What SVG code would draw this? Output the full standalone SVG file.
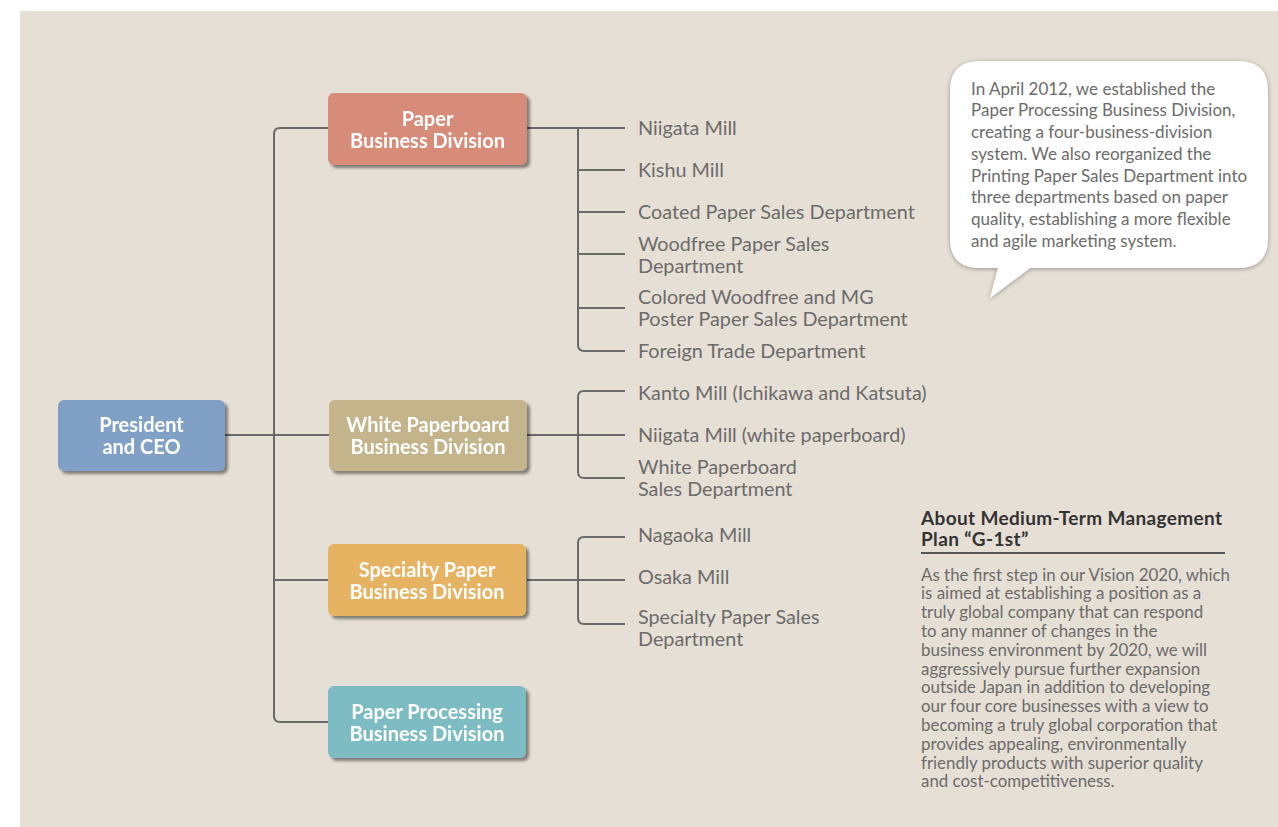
<svg xmlns="http://www.w3.org/2000/svg" width="1278" height="827" viewBox="0 0 1278 827">
<defs>
<filter id="sh" x="-10%" y="-10%" width="125%" height="130%">
<feGaussianBlur in="SourceAlpha" stdDeviation="1.5"/>
<feOffset dx="3" dy="3" result="b"/>
<feComponentTransfer><feFuncA type="linear" slope="0.45"/></feComponentTransfer>
<feMerge><feMergeNode/><feMergeNode in="SourceGraphic"/></feMerge>
</filter>
<filter id="bsh" x="-10%" y="-10%" width="120%" height="130%">
<feGaussianBlur in="SourceAlpha" stdDeviation="2.5"/>
<feOffset dx="0" dy="1"/>
<feComponentTransfer><feFuncA type="linear" slope="0.35"/></feComponentTransfer>
<feMerge><feMergeNode/><feMergeNode in="SourceGraphic"/></feMerge>
</filter>
</defs>
<style>
.box{filter:url(#sh)}
.bt{font-family:Lato,"Open Sans",sans-serif;font-weight:700;font-size:20px;fill:#ffffff;text-anchor:middle}
.lb{font-family:Lato,"Open Sans",sans-serif;font-size:19.8px;fill:#6b6b6b}
.ln{fill:none;stroke:#6a6a6a;stroke-width:2}
.cb{font-family:Lato,"Open Sans",sans-serif;font-size:17px;fill:#6b6b6b}
.hd{font-family:Lato,"Open Sans",sans-serif;font-weight:700;font-size:19px;letter-spacing:0.35px;fill:#333333}
.bd{font-family:Lato,"Open Sans",sans-serif;font-size:16.9px;fill:#6b6b6b}
</style>
<rect x="20" y="11" width="1258" height="816" fill="#e6dfd5"/>

<g id="connectors">
<path class="ln" d="M329 128 H280 Q274 128 274 134 V716 Q274 722 280 722 H329"/>
<path class="ln" d="M225 435 H329"/>
<path class="ln" d="M274 580 H329"/>
<path class="ln" d="M527 128 H625"/>
<path class="ln" d="M578 128 V345 Q578 351 584 351 H625"/>
<path class="ln" d="M578 170 H625 M578 212 H625 M578 254 H625 M578 308 H625"/>
<path class="ln" d="M527 435 H625"/>
<path class="ln" d="M625 391 H584 Q578 391 578 397 V472 Q578 478 584 478 H625"/>
<path class="ln" d="M527 580 H625"/>
<path class="ln" d="M625 537 H584 Q578 537 578 543 V618 Q578 624 584 624 H625"/>
</g>

<g id="president" class="box">
<rect x="58" y="400" width="167" height="71" rx="6" fill="#80a0c6"/>
<text class="bt" x="141.5" y="431.5">President</text>
<text class="bt" x="141.5" y="453.5">and CEO</text>
</g>
<g id="paper-division" class="box">
<rect x="328" y="93" width="199" height="72" rx="6" fill="#d68c78"/>
<text class="bt" x="427.5" y="125.5">Paper</text>
<text class="bt" x="427.5" y="147.5">Business Division</text>
</g>
<g id="white-paperboard-division" class="box">
<rect x="329" y="400" width="198" height="71" rx="6" fill="#c4b48c"/>
<text class="bt" x="428" y="431.5">White Paperboard</text>
<text class="bt" x="428" y="453.5">Business Division</text>
</g>
<g id="specialty-paper-division" class="box">
<rect x="328" y="544" width="198" height="72" rx="6" fill="#e6b363"/>
<text class="bt" x="427" y="576.5">Specialty Paper</text>
<text class="bt" x="427" y="598.5">Business Division</text>
</g>
<g id="paper-processing-division" class="box">
<rect x="328" y="686" width="198" height="72" rx="6" fill="#7dbcc3"/>
<text class="bt" x="427" y="718.5">Paper Processing</text>
<text class="bt" x="427" y="740.5">Business Division</text>
</g>

<g id="paper-units">
<text class="lb" x="638" y="134.5">Niigata Mill</text>
<text class="lb" x="638" y="176.5">Kishu Mill</text>
<text class="lb" x="638" y="218.5">Coated Paper Sales Department</text>
<text class="lb" x="638" y="250.5">Woodfree Paper Sales</text>
<text class="lb" x="638" y="272.5">Department</text>
<text class="lb" x="638" y="303.5">Colored Woodfree and MG</text>
<text class="lb" x="638" y="325.5">Poster Paper Sales Department</text>
<text class="lb" x="638" y="357.5">Foreign Trade Department</text>
</g>
<g id="white-paperboard-units">
<text class="lb" x="638" y="399.5">Kanto Mill (Ichikawa and Katsuta)</text>
<text class="lb" x="638" y="441.5">Niigata Mill (white paperboard)</text>
<text class="lb" x="638" y="473.5">White Paperboard</text>
<text class="lb" x="638" y="495.5">Sales Department</text>
</g>
<g id="specialty-paper-units">
<text class="lb" x="638" y="541.5">Nagaoka Mill</text>
<text class="lb" x="638" y="583.5">Osaka Mill</text>
<text class="lb" x="638" y="623.5">Specialty Paper Sales</text>
<text class="lb" x="638" y="645.5">Department</text>
</g>

<g id="callout">
<path d="M980 61 H1238 Q1268 61 1268 91 V238 Q1268 268 1238 268 H1030 L990 298 L998 268 H980 Q950 268 950 238 V91 Q950 61 980 61 Z" fill="#ffffff" filter="url(#bsh)"/>
<text class="cb" x="971" y="94.5">In April 2012, we established the</text>
<text class="cb" x="971" y="116">Paper Processing Business Division,</text>
<text class="cb" x="971" y="137.5">creating a four-business-division</text>
<text class="cb" x="971" y="159.5">system. We also reorganized the</text>
<text class="cb" x="971" y="181.5">Printing Paper Sales Department into</text>
<text class="cb" x="971" y="203">three departments based on paper</text>
<text class="cb" x="971" y="224.5">quality, establishing a more flexible</text>
<text class="cb" x="971" y="246.5">and agile marketing system.</text>
</g>

<g id="plan-note">
<text class="hd" x="921" y="524.5">About Medium-Term Management</text>
<text class="hd" x="921" y="546">Plan “G-1st”</text>
<rect x="921" y="552" width="304" height="2" fill="#555555"/>
<text class="bd" x="921" y="580.5">As the first step in our Vision 2020, which</text>
<text class="bd" x="921" y="599.3">is aimed at establishing a position as a</text>
<text class="bd" x="921" y="618.1">truly global company that can respond</text>
<text class="bd" x="921" y="636.9">to any manner of changes in the</text>
<text class="bd" x="921" y="655.7">business environment by 2020, we will</text>
<text class="bd" x="921" y="674.5">aggressively pursue further expansion</text>
<text class="bd" x="921" y="693.3">outside Japan in addition to developing</text>
<text class="bd" x="921" y="712.1">our four core businesses with a view to</text>
<text class="bd" x="921" y="730.9">becoming a truly global corporation that</text>
<text class="bd" x="921" y="749.7">provides appealing, environmentally</text>
<text class="bd" x="921" y="768.5">friendly products with superior quality</text>
<text class="bd" x="921" y="787.3">and cost-competitiveness.</text>
</g>
</svg>
